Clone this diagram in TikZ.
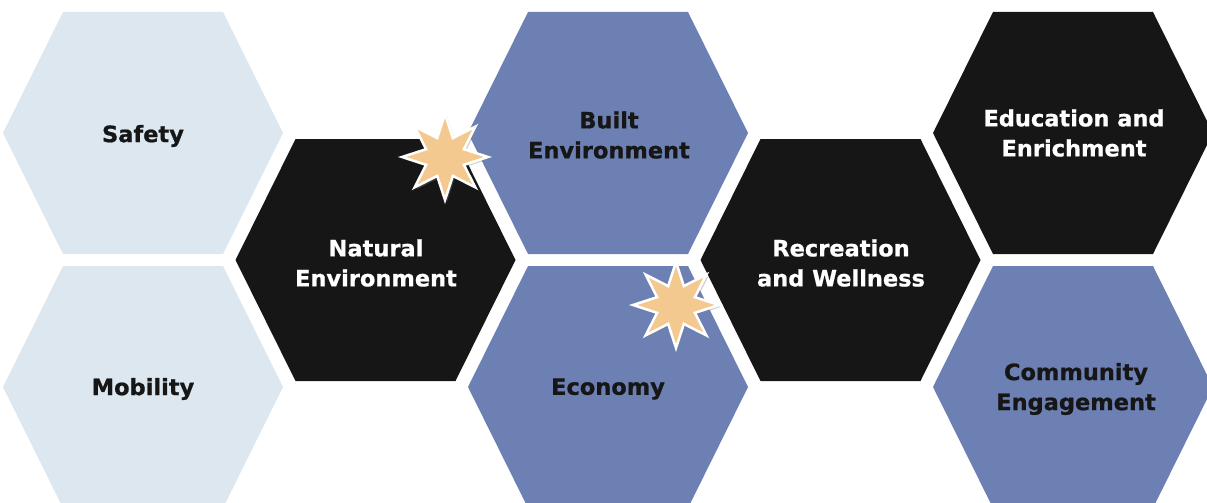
\documentclass[tikz,border=0pt]{standalone}
\usepackage{fontspec}
\setmainfont{DejaVu Sans}[BoldFeatures={FakeBold=0.8}]
\usetikzlibrary{shapes.geometric,shadows}
\definecolor{paleblue}{RGB}{221,231,240}
\definecolor{slateblue}{RGB}{108,128,180}
\definecolor{hexblack}{RGB}{22,22,22}
\definecolor{starpeach}{RGB}{244,201,143}

\begin{document}
\begin{tikzpicture}[x=1pt,y=-1pt,
    hexpath/.style={insert path={++(-140,0) -- ++(60,-121) -- ++(160,0) -- ++(60,121) -- ++(-60,121) -- ++(-160,0) -- cycle}},
    celltext/.style={align=center,text=hexblack,font=\fontsize{22.5}{30}\selectfont\bfseries},
    whitetext/.style={celltext,text=white},
    spark/.style={star,star points=8,star point ratio=2.1,minimum size=86pt,inner sep=0pt,
        fill=starpeach,draw=white,line width=2.5pt,
        drop shadow={shadow xshift=2pt,shadow yshift=-2pt,fill=gray,opacity=0.35}}]
        \useasboundingbox (0,0) rectangle (1207,503);
        \clip (0,0) rectangle (1207,503);
        % First column
        \fill[paleblue] (143,133) [hexpath];
        \fill[paleblue] (143,387) [hexpath];
        % Second column
        \fill[hexblack] (375.5,260) [hexpath];
        % Third column
        \fill[slateblue] (608,133) [hexpath];
        \fill[slateblue] (608,387) [hexpath];
        % Fourth column
        \fill[hexblack] (840.5,260) [hexpath];
        % Fifth column
        \fill[hexblack] (1073,133) [hexpath];
        \fill[slateblue] (1073,387) [hexpath];
        % Labels
        \node[celltext] (safety) at (143,136) {Safety};
        \node[celltext] (mobility) at (143,389) {Mobility};
        \node[whitetext] (natural) at (376,263) {Natural\\Environment};
        \node[celltext] (built) at (609,135) {Built\\Environment};
        \node[celltext] (economy) at (608,389) {Economy};
        \node[whitetext] (recreation) at (841,263) {Recreation\\and Wellness};
        \node[whitetext] (education) at (1074,133) {Education and\\Enrichment};
        \node[celltext] (community) at (1076,389) {Community\\Engagement};
        % Stars
        \node[spark] (starnatural) at (445,157) {};
        \node[spark] (stareconomy) at (676,305) {};
    \end{tikzpicture}
\end{document}
